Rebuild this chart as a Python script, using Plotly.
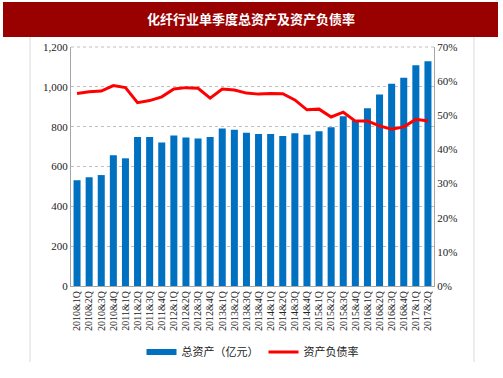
import plotly.graph_objects as go

quarters = ["2010&1Q","2010&2Q","2010&3Q","2010&4Q","2011&1Q","2011&2Q","2011&3Q","2011&4Q",
            "2012&1Q","2012&2Q","2012&3Q","2012&4Q","2013&1Q","2013&2Q","2013&3Q","2013&4Q",
            "2014&1Q","2014&2Q","2014&3Q","2014&4Q","2015&1Q","2015&2Q","2015&3Q","2015&4Q",
            "2016&1Q","2016&2Q","2016&3Q","2016&4Q","2017&1Q","2017&2Q"]
total_assets = [531, 546, 557, 656, 641, 748, 748, 720, 756, 745, 740, 748, 791, 785, 770, 763,
                763, 753, 767, 760, 777, 797, 852, 832, 892, 961, 1016, 1046, 1108, 1128]
debt_ratio = [56.4, 56.9, 57.1, 58.7, 58.1, 53.7, 54.3, 55.4, 57.7, 58.1, 57.9, 55.0, 57.7, 57.4, 56.5, 56.2,
              56.4, 56.3, 54.5, 51.6, 51.8, 49.5, 50.9, 48.3, 48.3, 46.9, 45.9, 46.6, 48.8, 48.3]
left_ticks = [0, 200, 400, 600, 800, 1000, 1200]
right_ticks = [0, 10, 20, 30, 40, 50, 60, 70]

serif = "Liberation Serif, Times New Roman, serif"
cjk = "Noto Sans CJK SC, sans-serif"
BLUE = "#0070C0"
RED = "#FF0000"

fig = go.Figure()
fig.add_trace(go.Bar(x=quarters, y=total_assets, name="总资产（亿元）", showlegend=False,
                     marker=dict(color=BLUE, line=dict(width=0))))
# legend proxy for the bar series (wide rectangle swatch)
fig.add_trace(go.Scatter(x=[None], y=[None], name="总资产（亿元）", mode="lines",
                         line=dict(color=BLUE, width=6)))
fig.add_trace(go.Scatter(x=quarters, y=debt_ratio, name="资产负债率", yaxis="y2",
                         mode="lines", line=dict(color=RED, width=3)))

W, H = 503, 378
L, R, T, B = 71, 434, 47, 286
pw, ph = R - L, B - T
def px(x): return (x - L) / pw
def py(y): return (B - y) / ph

fig.update_layout(
    width=W, height=H,
    margin=dict(l=L, r=W - R, t=T, b=H - B, autoexpand=False),
    paper_bgcolor="white", plot_bgcolor="white",
    bargap=0.42,
    showlegend=True,
    legend=dict(orientation="h", x=0.5, xanchor="center", y=py(352), yanchor="middle",
                font=dict(family=cjk, size=11, color="#222222"), itemwidth=30,
                bgcolor="rgba(0,0,0,0)"),
    xaxis=dict(type="category", tickangle=-90, tickfont=dict(family=serif, size=10, color="#222222"),
               showline=True, linecolor="#A6A6A6", linewidth=1, ticks="", showgrid=False,
               range=[-0.5, len(quarters) - 0.5]),
    yaxis=dict(range=[0, 1200], tickvals=left_ticks, ticktext=[f"{v:,}" for v in left_ticks],
               tickfont=dict(family=serif, size=11, color="#222222"),
               showline=True, linecolor="#A6A6A6", linewidth=1,
               showgrid=True, gridcolor="#BFBFBF", griddash="dot", gridwidth=1,
               zeroline=False, ticks="", ticklen=0),
    yaxis2=dict(range=[0, 70], overlaying="y", side="right", tickvals=right_ticks,
                ticktext=[f"{v}%" for v in right_ticks],
                tickfont=dict(family=serif, size=11, color="#222222"),
                showline=True, linecolor="#A6A6A6", linewidth=1, showgrid=False,
                zeroline=False, ticks=""),
    shapes=[
        dict(type="rect", xref="paper", yref="paper", x0=px(3), x1=px(498), y0=py(37), y1=py(2),
             fillcolor="#990000", line=dict(width=0), layer="above"),
        dict(type="line", xref="paper", yref="paper", x0=px(30), x1=px(30), y0=py(37), y1=py(362),
             line=dict(color="#D9D9D9", width=1)),
        dict(type="line", xref="paper", yref="paper", x0=px(474), x1=px(474), y0=py(37), y1=py(362),
             line=dict(color="#D9D9D9", width=1)),
        dict(type="line", xref="paper", yref="paper", x0=0, x1=1, y0=1, y1=1,
             line=dict(color="#BFBFBF", width=1, dash="dot")),
    ],
    annotations=[
        dict(text="<b>化纤行业单季度总资产及资产负债率</b>", xref="paper", yref="paper",
             x=px(251), y=py(19), xanchor="center", yanchor="middle", showarrow=False,
             font=dict(family=cjk, size=13, color="white")),
    ],
)

fig.write_html("out.html", config={"displayModeBar": False})

# remove the default 8px body margin so the figure sits at the window origin
with open("out.html", "r", encoding="utf-8") as f:
    html = f.read()
html = html.replace("<head>", "<head><style>html,body{margin:0;padding:0;overflow:hidden;}</style>", 1)
with open("out.html", "w", encoding="utf-8") as f:
    f.write(html)
